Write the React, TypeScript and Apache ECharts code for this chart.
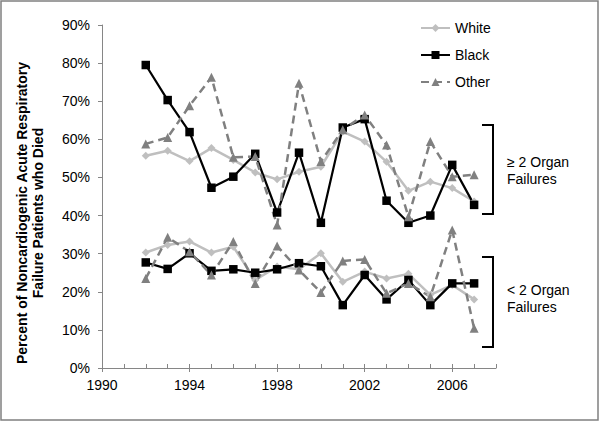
import React, { useEffect, useRef } from "react";
import * as echarts from "echarts";

const years = [1992, 1993, 1994, 1995, 1996, 1997, 1998, 1999, 2000, 2001, 2002, 2003, 2004, 2005, 2006, 2007];
const whiteHigh = [55.7, 57.0, 54.3, 57.7, 54.6, 51.3, 49.5, 51.5, 52.8, 62.0, 59.4, 54.1, 46.5, 48.9, 47.2, 43.7];
const blackHigh = [79.5, 70.3, 61.9, 47.3, 50.2, 56.2, 40.8, 56.5, 38.1, 63.1, 65.3, 43.9, 38.1, 40.0, 53.3, 42.8];
const otherHigh = [58.8, 60.5, 68.8, 76.3, 55.3, 55.5, 37.5, 74.7, 54.2, 62.5, 66.4, 58.5, 39.7, 59.4, 50.2, 50.7];
const whiteLow = [30.3, 32.3, 33.2, 30.3, 31.8, 23.1, 26.6, 25.9, 30.1, 22.6, 25.3, 23.5, 24.7, 19.2, 21.8, 18.0];
const blackLow = [27.7, 26.0, 30.1, 25.5, 25.9, 25.0, 25.9, 27.5, 26.7, 16.5, 24.4, 18.0, 23.1, 16.5, 22.2, 22.2];
const otherLow = [23.5, 34.3, 30.5, 24.4, 33.2, 22.2, 32.0, 25.7, 19.8, 28.1, 28.5, 19.6, 22.2, 18.7, 36.2, 10.4];

const seriesNames = ["White", "Black", "Other"];
const yAxisTitle = "Percent of Noncardiogenic Acute Respiratory\nFailure Patients who Died";
const upperLabel = "\u2265 2 Organ\nFailures";
const lowerLabel = "< 2 Organ\nFailures";

const FONT = 'Arial, "Liberation Sans", sans-serif';

const pair = (vals: number[]) => years.map((y, i) => [y, vals[i]]);

export default function App() {
  const ref = useRef<HTMLDivElement>(null);
  useEffect(() => {
    if (!ref.current) return;
    const chart = echarts.init(ref.current, null, { renderer: "svg" });

    const styles: Record<string, any> = {
      White: {
        symbol: "diamond",
        symbolSize: 8,
        itemStyle: { color: "#BFBFBF" },
        lineStyle: { color: "#BFBFBF", width: 2.5 },
      },
      Black: {
        symbol: "rect",
        symbolSize: 8.5,
        itemStyle: { color: "#000000" },
        lineStyle: { color: "#000000", width: 2.2 },
      },
      Other: {
        symbol: "triangle",
        symbolSize: 9,
        itemStyle: { color: "#808080" },
        lineStyle: { color: "#808080", width: 2.5, type: [8, 5] },
      },
    };
    const dataMap: Record<string, number[][]> = {
      White: [whiteHigh, whiteLow],
      Black: [blackHigh, blackLow],
      Other: [otherHigh, otherLow],
    };
    const series: any[] = [];
    seriesNames.forEach((name) => {
      dataMap[name].forEach((vals) => {
        series.push({
          type: "line",
          name,
          xAxisIndex: 0,
          data: pair(vals),
          ...styles[name],
        });
      });
    });

    chart.setOption({
      animation: false,
      backgroundColor: "#ffffff",
      textStyle: { fontFamily: FONT },
      grid: { left: 102, right: 104, top: 25, bottom: 54, containLabel: false },
      legend: {
        data: seriesNames,
        orient: "vertical",
        left: 420,
        top: 21,
        padding: 0,
        itemWidth: 29,
        itemHeight: 10,
        itemGap: 13,
        textStyle: { fontSize: 14, color: "#000", fontFamily: FONT },
      },
      xAxis: [
        {
          type: "value",
          min: 1990,
          max: 2008,
          interval: 4,
          position: "bottom",
          axisLine: { show: true, lineStyle: { color: "#868686", width: 1 } },
          axisTick: { show: true, inside: false, length: 4, lineStyle: { color: "#868686" } },
          axisLabel: {
            fontSize: 14,
            color: "#000",
            margin: 10,
            fontFamily: FONT,
            showMaxLabel: false,
            formatter: (v: number) => ((v - 1990) % 4 === 0 ? String(v) : ""),
          },
          splitLine: { show: false },
        },
        {
          type: "value",
          min: 1990,
          max: 2008,
          interval: 1,
          position: "bottom",
          offset: 0,
          axisLine: { show: false },
          axisTick: { show: true, inside: true, length: 4, lineStyle: { color: "#868686" } },
          axisLabel: { show: false },
          splitLine: { show: false },
        },
      ],
      yAxis: {
        type: "value",
        min: 0,
        max: 90,
        interval: 10,
        axisLine: { show: true, lineStyle: { color: "#868686", width: 1 } },
        axisTick: { show: true, inside: false, length: 4, lineStyle: { color: "#868686" } },
        axisLabel: { fontSize: 14, color: "#000", margin: 12, formatter: "{value}%", fontFamily: FONT },
        splitLine: { show: false },
      },
      series,
      graphic: [
        {
          type: "rect",
          shape: { x: 1, y: 1, width: 597, height: 419 },
          style: { fill: "none", stroke: "#808080", lineWidth: 1.5 },
          silent: true,
        },
        {
          type: "text",
          x: 29.5,
          y: 213,
          rotation: Math.PI / 2,
          style: {
            text: yAxisTitle,
            font: `bold 14px ${FONT}`,
            fill: "#000",
            textAlign: "center",
            textVerticalAlign: "middle",
            lineHeight: 16,
          },
        },
        {
          type: "polyline",
          shape: { points: [[482, 125], [493, 125], [493, 214], [482, 214]] },
          style: { stroke: "#000", lineWidth: 2, fill: "none" },
        },
        {
          type: "polyline",
          shape: { points: [[482, 257], [493, 257], [493, 347], [482, 347]] },
          style: { stroke: "#000", lineWidth: 2, fill: "none" },
        },
        {
          type: "text",
          x: 507,
          y: 170.5,
          style: {
            text: upperLabel,
            font: `14px ${FONT}`,
            fill: "#000",
            textAlign: "left",
            textVerticalAlign: "middle",
            lineHeight: 17,
          },
        },
        {
          type: "text",
          x: 507,
          y: 298,
          style: {
            text: lowerLabel,
            font: `14px ${FONT}`,
            fill: "#000",
            textAlign: "left",
            textVerticalAlign: "middle",
            lineHeight: 17,
          },
        },
      ],
    });
    return () => chart.dispose();
  }, []);
  return (
    <div
      ref={ref}
      style={{ position: "fixed", left: 0, top: 0, width: 600, height: 422, background: "#fff" }}
    />
  );
}
